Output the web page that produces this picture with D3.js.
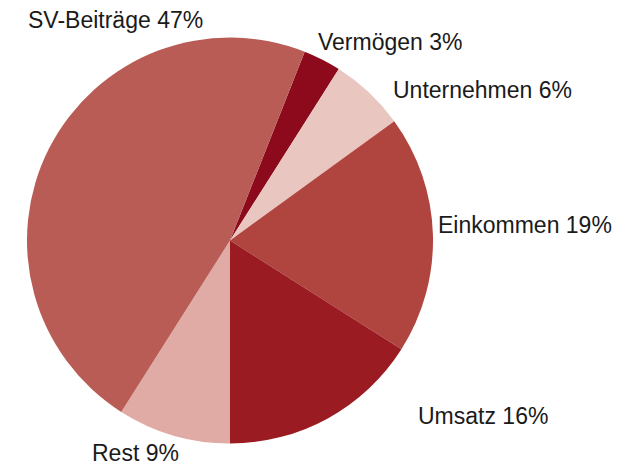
<!DOCTYPE html>
<html>
<head>
<meta charset="utf-8">
<script src="https://cdn.jsdelivr.net/npm/d3@7"></script>
<style>
  html, body { margin: 0; padding: 0; background: #ffffff; }
  svg { display: block; }
  text { font-family: "Liberation Sans", Arial, sans-serif; fill: #1a1a1a; }
</style>
</head>
<body>
<svg id="chart" width="628" height="466"></svg>
<script>
// Revenue sources, shares in percent (clockwise from the top)
const categories = ["Vermögen", "Unternehmen", "Einkommen", "Umsatz", "Rest", "SV-Beiträge"];
const shares = [3, 6, 19, 16, 9, 47];
const colors = ["#8c0a1c", "#eac6c0", "#b0443f", "#9b1b22", "#e0aba4", "#b85c55"];

// Label anchor points (start-anchored text, baseline)
const labelPos = {
  "Vermögen": [318, 50],
  "Unternehmen": [393, 98],
  "Einkommen": [438, 233],
  "Umsatz": [418, 424],
  "Rest": [92, 461],
  "SV-Beiträge": [28, 28]
};

const width = 628, height = 466;
const cx = 230, cy = 240.5, radius = 203;

// Vermögen begins at 21.6° so that Rest begins exactly at the bottom
const startDeg = 180 - (shares[2] + shares[3] + shares[1] + shares[0]) * 3.6;
const start = startDeg * Math.PI / 180;

const pie = d3.pie().value(d => d).sort(null)
  .startAngle(start).endAngle(start + 2 * Math.PI);
const arc = d3.arc().innerRadius(0).outerRadius(radius);
const color = d3.scaleOrdinal().domain(categories).range(colors);

const svg = d3.select("#chart");
const g = svg.append("g").attr("transform", `translate(${cx},${cy})`);

const arcs = pie(shares);
g.selectAll("path")
  .data(arcs)
  .join("path")
  .attr("d", arc)
  .attr("fill", (d, i) => color(categories[i]));

svg.selectAll("text.label")
  .data(arcs)
  .join("text")
  .attr("class", "label")
  .attr("x", (d, i) => labelPos[categories[i]][0])
  .attr("y", (d, i) => labelPos[categories[i]][1])
  .attr("font-size", 23)
  .text((d, i) => `${categories[i]} ${shares[i]}%`);
</script>
</body>
</html>
